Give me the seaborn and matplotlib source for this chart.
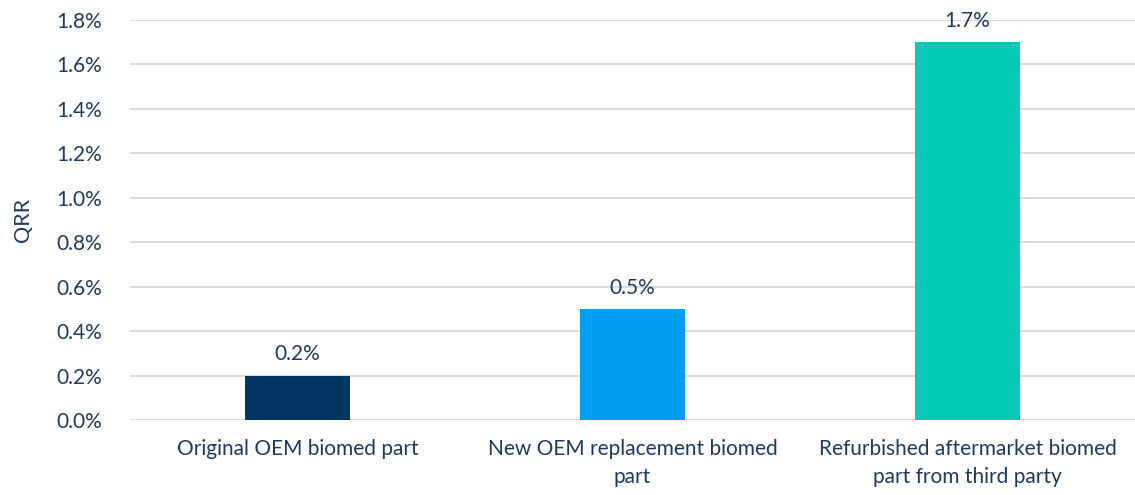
import matplotlib
matplotlib.use("Agg")
import matplotlib.pyplot as plt
import seaborn as sns
import pandas as pd

categories = ["Original OEM biomed part",
              "New OEM replacement biomed\npart",
              "Refurbished aftermarket biomed\npart from third party"]
values = [0.002, 0.005, 0.017]
labels = ["0.2%", "0.5%", "1.7%"]
colors = ["#033662", "#009EF2", "#03CBB6"]
yticks = [0.0, 0.002, 0.004, 0.006, 0.008, 0.010, 0.012, 0.014, 0.016, 0.018]
ytick_labels = ["0.0%", "0.2%", "0.4%", "0.6%", "0.8%", "1.0%", "1.2%", "1.4%", "1.6%", "1.8%"]

sns.set_theme(style="white")
plt.rcParams['font.family'] = ['Lato', 'DejaVu Sans']
text_color = "#1F3A5F"
fs = 15

df = pd.DataFrame({"cat": categories, "val": values})
fig = plt.figure(figsize=(11.35, 4.95), dpi=100)
ax = fig.add_axes([0.1145, 0.1515, 0.8855, 0.8081])
sns.barplot(data=df, x="cat", y="val", hue="cat", palette=colors, width=0.315,
            legend=False, ax=ax, saturation=1, linewidth=0)
ax.set_ylim(0, 0.018)
ax.set_yticks(yticks)
ax.set_yticklabels(ytick_labels)
ax.yaxis.grid(True, color="#D9D9D9", linewidth=1.3)
ax.set_axisbelow(True)
for s in ax.spines.values():
    s.set_visible(False)
ax.tick_params(axis='both', length=0, labelsize=fs, colors=text_color)
ax.tick_params(axis='y', pad=20)
ax.tick_params(axis='x', pad=14)
for t in ax.get_xticklabels():
    t.set_linespacing(1.45)
ax.set_xlabel("")
ax.set_ylabel("QRR", fontsize=fs + 0.5, color=text_color, labelpad=17)
for i, (v, l) in enumerate(zip(values, labels)):
    ax.annotate(l, (i, v), xytext=(0, 8), textcoords="offset points",
                ha="center", va="bottom", fontsize=fs, color=text_color)
fig.savefig("out.png", dpi=100)
